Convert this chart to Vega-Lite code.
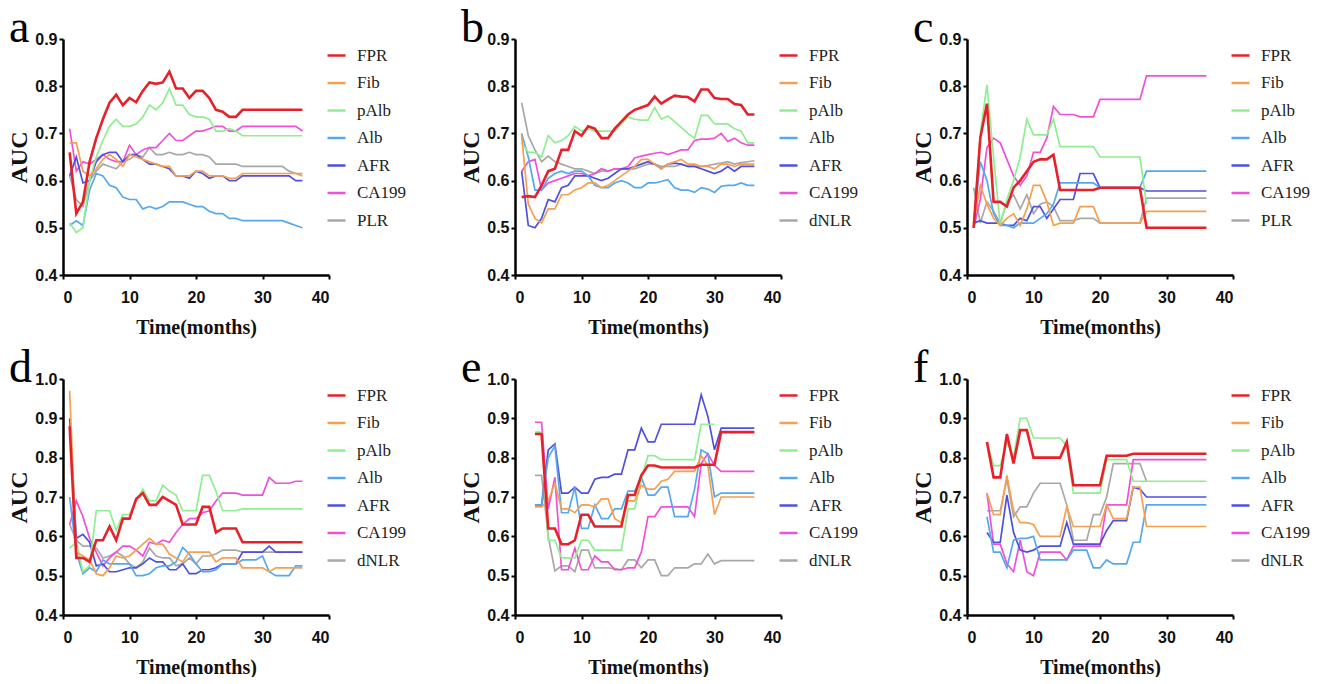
{
"$schema": "https://vega.github.io/schema/vega-lite/v6.json",
"background": "white",
"padding": {"left": 7, "top": 5, "right": 0, "bottom": 0},
"datasets": {
"a": [
{"m":1,"FPR":0.66,"Fib":0.68,"pAlb":0.51,"Alb":0.505,"AFR":0.61,"CA199":0.71,"PLR":0.61},
{"m":2,"FPR":0.53,"Fib":0.68,"pAlb":0.49,"Alb":0.515,"AFR":0.65,"CA199":0.62,"PLR":0.56},
{"m":3,"FPR":0.555,"Fib":0.62,"pAlb":0.5,"Alb":0.505,"AFR":0.595,"CA199":0.64,"PLR":0.545},
{"m":4,"FPR":0.64,"Fib":0.61,"pAlb":0.6,"Alb":0.58,"AFR":0.6,"CA199":0.635,"PLR":0.6},
{"m":5,"FPR":0.69,"Fib":0.625,"pAlb":0.65,"Alb":0.615,"AFR":0.64,"CA199":0.645,"PLR":0.62},
{"m":6,"FPR":0.73,"Fib":0.645,"pAlb":0.685,"Alb":0.61,"AFR":0.655,"CA199":0.655,"PLR":0.635},
{"m":7,"FPR":0.765,"Fib":0.655,"pAlb":0.715,"Alb":0.59,"AFR":0.66,"CA199":0.645,"PLR":0.63},
{"m":8,"FPR":0.782,"Fib":0.645,"pAlb":0.73,"Alb":0.585,"AFR":0.66,"CA199":0.64,"PLR":0.625},
{"m":9,"FPR":0.76,"Fib":0.63,"pAlb":0.715,"Alb":0.565,"AFR":0.64,"CA199":0.64,"PLR":0.64},
{"m":10,"FPR":0.775,"Fib":0.655,"pAlb":0.715,"Alb":0.56,"AFR":0.655,"CA199":0.675,"PLR":0.645},
{"m":11,"FPR":0.766,"Fib":0.65,"pAlb":0.72,"Alb":0.56,"AFR":0.655,"CA199":0.655,"PLR":0.655},
{"m":12,"FPR":0.79,"Fib":0.645,"pAlb":0.735,"Alb":0.54,"AFR":0.645,"CA199":0.665,"PLR":0.65},
{"m":13,"FPR":0.808,"Fib":0.64,"pAlb":0.76,"Alb":0.545,"AFR":0.635,"CA199":0.67,"PLR":0.67},
{"m":14,"FPR":0.805,"Fib":0.635,"pAlb":0.75,"Alb":0.54,"AFR":0.635,"CA199":0.67,"PLR":0.655},
{"m":15,"FPR":0.808,"Fib":0.63,"pAlb":0.765,"Alb":0.545,"AFR":0.63,"CA199":0.685,"PLR":0.655},
{"m":16,"FPR":0.831,"Fib":0.63,"pAlb":0.795,"Alb":0.555,"AFR":0.625,"CA199":0.7,"PLR":0.66},
{"m":17,"FPR":0.795,"Fib":0.61,"pAlb":0.76,"Alb":0.555,"AFR":0.61,"CA199":0.685,"PLR":0.655},
{"m":18,"FPR":0.795,"Fib":0.61,"pAlb":0.76,"Alb":0.555,"AFR":0.61,"CA199":0.685,"PLR":0.655},
{"m":19,"FPR":0.775,"Fib":0.61,"pAlb":0.74,"Alb":0.55,"AFR":0.605,"CA199":0.695,"PLR":0.66},
{"m":20,"FPR":0.79,"Fib":0.62,"pAlb":0.735,"Alb":0.545,"AFR":0.62,"CA199":0.705,"PLR":0.655},
{"m":21,"FPR":0.79,"Fib":0.62,"pAlb":0.735,"Alb":0.545,"AFR":0.615,"CA199":0.705,"PLR":0.655},
{"m":22,"FPR":0.775,"Fib":0.61,"pAlb":0.73,"Alb":0.535,"AFR":0.605,"CA199":0.71,"PLR":0.65},
{"m":23,"FPR":0.75,"Fib":0.61,"pAlb":0.705,"Alb":0.53,"AFR":0.61,"CA199":0.715,"PLR":0.635},
{"m":24,"FPR":0.746,"Fib":0.61,"pAlb":0.705,"Alb":0.53,"AFR":0.61,"CA199":0.715,"PLR":0.635},
{"m":25,"FPR":0.735,"Fib":0.605,"pAlb":0.71,"Alb":0.52,"AFR":0.6,"CA199":0.705,"PLR":0.635},
{"m":26,"FPR":0.735,"Fib":0.605,"pAlb":0.705,"Alb":0.52,"AFR":0.6,"CA199":0.705,"PLR":0.635},
{"m":27,"FPR":0.75,"Fib":0.615,"pAlb":0.695,"Alb":0.515,"AFR":0.61,"CA199":0.715,"PLR":0.63},
{"m":28,"FPR":0.75,"Fib":0.615,"pAlb":0.695,"Alb":0.515,"AFR":0.61,"CA199":0.715,"PLR":0.63},
{"m":29,"FPR":0.75,"Fib":0.615,"pAlb":0.695,"Alb":0.515,"AFR":0.61,"CA199":0.715,"PLR":0.63},
{"m":30,"FPR":0.75,"Fib":0.615,"pAlb":0.695,"Alb":0.515,"AFR":0.61,"CA199":0.715,"PLR":0.63},
{"m":31,"FPR":0.75,"Fib":0.615,"pAlb":0.695,"Alb":0.515,"AFR":0.61,"CA199":0.715,"PLR":0.63},
{"m":32,"FPR":0.75,"Fib":0.615,"pAlb":0.695,"Alb":0.515,"AFR":0.61,"CA199":0.715,"PLR":0.63},
{"m":33,"FPR":0.75,"Fib":0.615,"pAlb":0.695,"Alb":0.515,"AFR":0.61,"CA199":0.715,"PLR":0.63},
{"m":34,"FPR":0.75,"Fib":0.615,"pAlb":0.695,"Alb":0.51,"AFR":0.61,"CA199":0.715,"PLR":0.62},
{"m":35,"FPR":0.75,"Fib":0.615,"pAlb":0.695,"Alb":0.505,"AFR":0.6,"CA199":0.715,"PLR":0.615},
{"m":36,"FPR":0.75,"Fib":0.61,"pAlb":0.695,"Alb":0.5,"AFR":0.6,"CA199":0.705,"PLR":0.615}
],
"b": [
{"m":1,"FPR":0.565,"Fib":0.695,"pAlb":0.68,"Alb":0.7,"AFR":0.62,"CA199":0.62,"dNLR":0.765},
{"m":2,"FPR":0.567,"Fib":0.55,"pAlb":0.66,"Alb":0.65,"AFR":0.505,"CA199":0.64,"dNLR":0.695},
{"m":3,"FPR":0.565,"Fib":0.52,"pAlb":0.66,"Alb":0.58,"AFR":0.5,"CA199":0.645,"dNLR":0.665},
{"m":4,"FPR":0.59,"Fib":0.51,"pAlb":0.65,"Alb":0.58,"AFR":0.52,"CA199":0.58,"dNLR":0.64},
{"m":5,"FPR":0.62,"Fib":0.54,"pAlb":0.695,"Alb":0.605,"AFR":0.56,"CA199":0.595,"dNLR":0.652},
{"m":6,"FPR":0.625,"Fib":0.54,"pAlb":0.68,"Alb":0.615,"AFR":0.555,"CA199":0.6,"dNLR":0.64},
{"m":7,"FPR":0.665,"Fib":0.57,"pAlb":0.685,"Alb":0.62,"AFR":0.585,"CA199":0.605,"dNLR":0.635},
{"m":8,"FPR":0.665,"Fib":0.57,"pAlb":0.695,"Alb":0.615,"AFR":0.59,"CA199":0.61,"dNLR":0.63},
{"m":9,"FPR":0.705,"Fib":0.58,"pAlb":0.715,"Alb":0.62,"AFR":0.61,"CA199":0.615,"dNLR":0.625},
{"m":10,"FPR":0.695,"Fib":0.585,"pAlb":0.705,"Alb":0.62,"AFR":0.61,"CA199":0.615,"dNLR":0.625},
{"m":11,"FPR":0.715,"Fib":0.595,"pAlb":0.71,"Alb":0.61,"AFR":0.61,"CA199":0.61,"dNLR":0.62},
{"m":12,"FPR":0.71,"Fib":0.595,"pAlb":0.705,"Alb":0.59,"AFR":0.605,"CA199":0.615,"dNLR":0.615},
{"m":13,"FPR":0.69,"Fib":0.585,"pAlb":0.705,"Alb":0.585,"AFR":0.6,"CA199":0.625,"dNLR":0.62},
{"m":14,"FPR":0.69,"Fib":0.59,"pAlb":0.705,"Alb":0.585,"AFR":0.605,"CA199":0.62,"dNLR":0.62},
{"m":15,"FPR":0.71,"Fib":0.6,"pAlb":0.705,"Alb":0.595,"AFR":0.615,"CA199":0.625,"dNLR":0.625},
{"m":16,"FPR":0.725,"Fib":0.61,"pAlb":0.72,"Alb":0.6,"AFR":0.625,"CA199":0.625,"dNLR":0.625},
{"m":17,"FPR":0.74,"Fib":0.62,"pAlb":0.735,"Alb":0.595,"AFR":0.625,"CA199":0.63,"dNLR":0.625},
{"m":18,"FPR":0.75,"Fib":0.63,"pAlb":0.73,"Alb":0.585,"AFR":0.63,"CA199":0.648,"dNLR":0.625},
{"m":19,"FPR":0.755,"Fib":0.645,"pAlb":0.728,"Alb":0.585,"AFR":0.635,"CA199":0.652,"dNLR":0.63},
{"m":20,"FPR":0.76,"Fib":0.645,"pAlb":0.728,"Alb":0.595,"AFR":0.64,"CA199":0.655,"dNLR":0.635},
{"m":21,"FPR":0.778,"Fib":0.635,"pAlb":0.755,"Alb":0.595,"AFR":0.635,"CA199":0.658,"dNLR":0.635},
{"m":22,"FPR":0.763,"Fib":0.625,"pAlb":0.73,"Alb":0.598,"AFR":0.625,"CA199":0.66,"dNLR":0.63},
{"m":23,"FPR":0.772,"Fib":0.635,"pAlb":0.737,"Alb":0.602,"AFR":0.635,"CA199":0.655,"dNLR":0.63},
{"m":24,"FPR":0.78,"Fib":0.64,"pAlb":0.725,"Alb":0.585,"AFR":0.637,"CA199":0.66,"dNLR":0.63},
{"m":25,"FPR":0.778,"Fib":0.645,"pAlb":0.713,"Alb":0.58,"AFR":0.635,"CA199":0.665,"dNLR":0.635},
{"m":26,"FPR":0.777,"Fib":0.635,"pAlb":0.7,"Alb":0.58,"AFR":0.63,"CA199":0.665,"dNLR":0.63},
{"m":27,"FPR":0.768,"Fib":0.635,"pAlb":0.69,"Alb":0.575,"AFR":0.63,"CA199":0.685,"dNLR":0.63},
{"m":28,"FPR":0.793,"Fib":0.63,"pAlb":0.738,"Alb":0.585,"AFR":0.625,"CA199":0.688,"dNLR":0.63},
{"m":29,"FPR":0.793,"Fib":0.63,"pAlb":0.738,"Alb":0.582,"AFR":0.62,"CA199":0.688,"dNLR":0.632},
{"m":30,"FPR":0.775,"Fib":0.625,"pAlb":0.72,"Alb":0.575,"AFR":0.615,"CA199":0.69,"dNLR":0.635},
{"m":31,"FPR":0.773,"Fib":0.635,"pAlb":0.72,"Alb":0.588,"AFR":0.62,"CA199":0.7,"dNLR":0.637},
{"m":32,"FPR":0.773,"Fib":0.635,"pAlb":0.72,"Alb":0.59,"AFR":0.63,"CA199":0.683,"dNLR":0.64},
{"m":33,"FPR":0.762,"Fib":0.63,"pAlb":0.71,"Alb":0.59,"AFR":0.62,"CA199":0.69,"dNLR":0.635},
{"m":34,"FPR":0.76,"Fib":0.635,"pAlb":0.705,"Alb":0.595,"AFR":0.63,"CA199":0.68,"dNLR":0.638},
{"m":35,"FPR":0.74,"Fib":0.635,"pAlb":0.68,"Alb":0.59,"AFR":0.63,"CA199":0.675,"dNLR":0.64},
{"m":36,"FPR":0.74,"Fib":0.635,"pAlb":0.68,"Alb":0.59,"AFR":0.63,"CA199":0.675,"dNLR":0.642}
],
"c": [
{"m":1,"FPR":0.5,"Fib":0.51,"pAlb":0.5,"Alb":0.51,"AFR":0.51,"CA199":0.5,"PLR":0.585},
{"m":2,"FPR":0.69,"Fib":0.59,"pAlb":0.7,"Alb":0.64,"AFR":0.515,"CA199":0.56,"PLR":0.51},
{"m":3,"FPR":0.763,"Fib":0.55,"pAlb":0.803,"Alb":0.6,"AFR":0.51,"CA199":0.67,"PLR":0.555},
{"m":4,"FPR":0.555,"Fib":0.52,"pAlb":0.65,"Alb":0.53,"AFR":0.51,"CA199":0.69,"PLR":0.535},
{"m":5,"FPR":0.555,"Fib":0.505,"pAlb":0.505,"Alb":0.505,"AFR":0.51,"CA199":0.68,"PLR":0.51},
{"m":6,"FPR":0.545,"Fib":0.52,"pAlb":0.56,"Alb":0.505,"AFR":0.505,"CA199":0.645,"PLR":0.555},
{"m":7,"FPR":0.585,"Fib":0.53,"pAlb":0.6,"Alb":0.5,"AFR":0.505,"CA199":0.61,"PLR":0.57},
{"m":8,"FPR":0.6,"Fib":0.505,"pAlb":0.65,"Alb":0.51,"AFR":0.52,"CA199":0.59,"PLR":0.54},
{"m":9,"FPR":0.62,"Fib":0.54,"pAlb":0.73,"Alb":0.51,"AFR":0.515,"CA199":0.61,"PLR":0.57},
{"m":10,"FPR":0.64,"Fib":0.59,"pAlb":0.697,"Alb":0.51,"AFR":0.545,"CA199":0.66,"PLR":0.53},
{"m":11,"FPR":0.645,"Fib":0.59,"pAlb":0.697,"Alb":0.52,"AFR":0.545,"CA199":0.66,"PLR":0.55},
{"m":12,"FPR":0.645,"Fib":0.555,"pAlb":0.697,"Alb":0.53,"AFR":0.52,"CA199":0.69,"PLR":0.555},
{"m":13,"FPR":0.655,"Fib":0.505,"pAlb":0.73,"Alb":0.55,"AFR":0.54,"CA199":0.757,"PLR":0.545},
{"m":14,"FPR":0.58,"Fib":0.51,"pAlb":0.672,"Alb":0.595,"AFR":0.56,"CA199":0.74,"PLR":0.515},
{"m":15,"FPR":0.58,"Fib":0.51,"pAlb":0.672,"Alb":0.595,"AFR":0.56,"CA199":0.74,"PLR":0.515},
{"m":16,"FPR":0.58,"Fib":0.51,"pAlb":0.672,"Alb":0.595,"AFR":0.56,"CA199":0.74,"PLR":0.515},
{"m":17,"FPR":0.58,"Fib":0.545,"pAlb":0.672,"Alb":0.595,"AFR":0.615,"CA199":0.735,"PLR":0.52},
{"m":18,"FPR":0.58,"Fib":0.545,"pAlb":0.672,"Alb":0.595,"AFR":0.615,"CA199":0.735,"PLR":0.52},
{"m":19,"FPR":0.58,"Fib":0.545,"pAlb":0.672,"Alb":0.595,"AFR":0.615,"CA199":0.735,"PLR":0.52},
{"m":20,"FPR":0.585,"Fib":0.51,"pAlb":0.65,"Alb":0.585,"AFR":0.585,"CA199":0.772,"PLR":0.51},
{"m":21,"FPR":0.585,"Fib":0.51,"pAlb":0.65,"Alb":0.585,"AFR":0.585,"CA199":0.772,"PLR":0.51},
{"m":22,"FPR":0.585,"Fib":0.51,"pAlb":0.65,"Alb":0.585,"AFR":0.585,"CA199":0.772,"PLR":0.51},
{"m":23,"FPR":0.585,"Fib":0.51,"pAlb":0.65,"Alb":0.585,"AFR":0.585,"CA199":0.772,"PLR":0.51},
{"m":24,"FPR":0.585,"Fib":0.51,"pAlb":0.65,"Alb":0.585,"AFR":0.585,"CA199":0.772,"PLR":0.51},
{"m":25,"FPR":0.585,"Fib":0.51,"pAlb":0.65,"Alb":0.585,"AFR":0.585,"CA199":0.772,"PLR":0.51},
{"m":26,"FPR":0.585,"Fib":0.51,"pAlb":0.65,"Alb":0.585,"AFR":0.585,"CA199":0.772,"PLR":0.51},
{"m":27,"FPR":0.5,"Fib":0.535,"pAlb":0.55,"Alb":0.62,"AFR":0.578,"CA199":0.822,"PLR":0.563},
{"m":28,"FPR":0.5,"Fib":0.535,"pAlb":null,"Alb":0.62,"AFR":0.578,"CA199":0.822,"PLR":0.563},
{"m":29,"FPR":0.5,"Fib":0.535,"pAlb":null,"Alb":0.62,"AFR":0.578,"CA199":0.822,"PLR":0.563},
{"m":30,"FPR":0.5,"Fib":0.535,"pAlb":null,"Alb":0.62,"AFR":0.578,"CA199":0.822,"PLR":0.563},
{"m":31,"FPR":0.5,"Fib":0.535,"pAlb":null,"Alb":0.62,"AFR":0.578,"CA199":0.822,"PLR":0.563},
{"m":32,"FPR":0.5,"Fib":0.535,"pAlb":null,"Alb":0.62,"AFR":0.578,"CA199":0.822,"PLR":0.563},
{"m":33,"FPR":0.5,"Fib":0.535,"pAlb":null,"Alb":0.62,"AFR":0.578,"CA199":0.822,"PLR":0.563},
{"m":34,"FPR":0.5,"Fib":0.535,"pAlb":null,"Alb":0.62,"AFR":0.578,"CA199":0.822,"PLR":0.563},
{"m":35,"FPR":0.5,"Fib":0.535,"pAlb":null,"Alb":0.62,"AFR":0.578,"CA199":0.822,"PLR":0.563},
{"m":36,"FPR":0.5,"Fib":0.535,"pAlb":null,"Alb":0.62,"AFR":0.578,"CA199":0.822,"PLR":0.563}
],
"d": [
{"m":1,"FPR":0.88,"Fib":0.97,"pAlb":0.57,"Alb":0.7,"AFR":0.9,"CA199":0.63,"dNLR":0.63},
{"m":2,"FPR":0.545,"Fib":0.56,"pAlb":0.585,"Alb":0.56,"AFR":0.595,"CA199":0.69,"dNLR":0.59},
{"m":3,"FPR":0.545,"Fib":0.55,"pAlb":0.51,"Alb":0.505,"AFR":0.605,"CA199":0.65,"dNLR":0.575},
{"m":4,"FPR":0.535,"Fib":0.54,"pAlb":0.525,"Alb":0.52,"AFR":0.585,"CA199":0.595,"dNLR":0.575},
{"m":5,"FPR":0.59,"Fib":0.505,"pAlb":0.665,"Alb":0.51,"AFR":0.525,"CA199":0.56,"dNLR":0.57},
{"m":6,"FPR":0.59,"Fib":0.5,"pAlb":0.665,"Alb":0.54,"AFR":0.53,"CA199":0.525,"dNLR":0.545},
{"m":7,"FPR":0.625,"Fib":0.52,"pAlb":0.665,"Alb":0.53,"AFR":0.51,"CA199":0.545,"dNLR":0.55},
{"m":8,"FPR":0.59,"Fib":0.55,"pAlb":0.615,"Alb":0.53,"AFR":0.51,"CA199":0.56,"dNLR":0.56},
{"m":9,"FPR":0.645,"Fib":0.545,"pAlb":0.655,"Alb":0.53,"AFR":0.515,"CA199":0.575,"dNLR":0.55},
{"m":10,"FPR":0.645,"Fib":0.55,"pAlb":0.655,"Alb":0.53,"AFR":0.52,"CA199":0.575,"dNLR":0.53},
{"m":11,"FPR":0.695,"Fib":0.565,"pAlb":0.69,"Alb":0.5,"AFR":0.52,"CA199":0.565,"dNLR":0.52},
{"m":12,"FPR":0.71,"Fib":0.58,"pAlb":0.72,"Alb":0.5,"AFR":0.53,"CA199":0.55,"dNLR":0.535},
{"m":13,"FPR":0.68,"Fib":0.595,"pAlb":0.69,"Alb":0.505,"AFR":0.545,"CA199":0.585,"dNLR":0.57},
{"m":14,"FPR":0.68,"Fib":0.58,"pAlb":0.69,"Alb":0.52,"AFR":0.535,"CA199":0.58,"dNLR":0.55},
{"m":15,"FPR":0.7,"Fib":0.58,"pAlb":0.73,"Alb":0.525,"AFR":0.535,"CA199":0.59,"dNLR":0.545},
{"m":16,"FPR":0.69,"Fib":0.555,"pAlb":0.715,"Alb":0.525,"AFR":0.515,"CA199":0.585,"dNLR":0.545},
{"m":17,"FPR":0.68,"Fib":0.545,"pAlb":0.705,"Alb":0.535,"AFR":0.515,"CA199":0.61,"dNLR":0.525},
{"m":18,"FPR":0.63,"Fib":0.535,"pAlb":0.665,"Alb":0.572,"AFR":0.53,"CA199":0.63,"dNLR":0.53},
{"m":19,"FPR":0.63,"Fib":0.56,"pAlb":0.665,"Alb":0.555,"AFR":0.505,"CA199":0.645,"dNLR":0.545},
{"m":20,"FPR":0.63,"Fib":0.56,"pAlb":0.665,"Alb":0.53,"AFR":0.505,"CA199":0.645,"dNLR":0.53},
{"m":21,"FPR":0.675,"Fib":0.56,"pAlb":0.755,"Alb":0.51,"AFR":0.515,"CA199":0.66,"dNLR":0.55},
{"m":22,"FPR":0.675,"Fib":0.56,"pAlb":0.755,"Alb":0.51,"AFR":0.515,"CA199":0.665,"dNLR":0.55},
{"m":23,"FPR":0.61,"Fib":0.535,"pAlb":0.715,"Alb":0.515,"AFR":0.52,"CA199":0.69,"dNLR":0.555},
{"m":24,"FPR":0.62,"Fib":0.545,"pAlb":0.665,"Alb":0.53,"AFR":0.53,"CA199":0.71,"dNLR":0.565},
{"m":25,"FPR":0.62,"Fib":0.545,"pAlb":0.665,"Alb":0.53,"AFR":0.53,"CA199":0.71,"dNLR":0.565},
{"m":26,"FPR":0.62,"Fib":0.545,"pAlb":0.665,"Alb":0.53,"AFR":0.53,"CA199":0.71,"dNLR":0.565},
{"m":27,"FPR":0.585,"Fib":0.52,"pAlb":0.67,"Alb":0.54,"AFR":0.56,"CA199":0.705,"dNLR":0.56},
{"m":28,"FPR":0.585,"Fib":0.52,"pAlb":0.67,"Alb":0.54,"AFR":0.56,"CA199":0.705,"dNLR":0.56},
{"m":29,"FPR":0.585,"Fib":0.52,"pAlb":0.67,"Alb":0.54,"AFR":0.56,"CA199":0.705,"dNLR":0.56},
{"m":30,"FPR":0.585,"Fib":0.52,"pAlb":0.67,"Alb":0.55,"AFR":0.56,"CA199":0.705,"dNLR":0.56},
{"m":31,"FPR":0.585,"Fib":0.51,"pAlb":0.67,"Alb":0.51,"AFR":0.575,"CA199":0.75,"dNLR":0.56},
{"m":32,"FPR":0.585,"Fib":0.52,"pAlb":0.67,"Alb":0.5,"AFR":0.56,"CA199":0.735,"dNLR":0.56},
{"m":33,"FPR":0.585,"Fib":0.52,"pAlb":0.67,"Alb":0.5,"AFR":0.56,"CA199":0.735,"dNLR":0.56},
{"m":34,"FPR":0.585,"Fib":0.52,"pAlb":0.67,"Alb":0.5,"AFR":0.56,"CA199":0.735,"dNLR":0.56},
{"m":35,"FPR":0.585,"Fib":0.52,"pAlb":0.67,"Alb":0.525,"AFR":0.56,"CA199":0.74,"dNLR":0.56},
{"m":36,"FPR":0.585,"Fib":0.52,"pAlb":0.67,"Alb":0.525,"AFR":0.56,"CA199":0.74,"dNLR":0.56}
],
"e": [
{"m":3,"FPR":0.86,"Fib":0.675,"pAlb":0.865,"Alb":0.68,"AFR":0.68,"CA199":0.89,"dNLR":0.755},
{"m":4,"FPR":0.86,"Fib":0.675,"pAlb":0.865,"Alb":0.68,"AFR":0.68,"CA199":0.89,"dNLR":0.755},
{"m":5,"FPR":0.62,"Fib":0.69,"pAlb":0.59,"Alb":0.8,"AFR":0.82,"CA199":0.67,"dNLR":0.6},
{"m":6,"FPR":0.62,"Fib":0.735,"pAlb":0.59,"Alb":0.83,"AFR":0.835,"CA199":0.75,"dNLR":0.512},
{"m":7,"FPR":0.58,"Fib":0.67,"pAlb":0.545,"Alb":0.66,"AFR":0.71,"CA199":0.515,"dNLR":0.525},
{"m":8,"FPR":0.58,"Fib":0.67,"pAlb":0.545,"Alb":0.66,"AFR":0.71,"CA199":0.515,"dNLR":0.525},
{"m":9,"FPR":0.59,"Fib":0.66,"pAlb":0.545,"Alb":0.725,"AFR":0.725,"CA199":0.57,"dNLR":0.51},
{"m":10,"FPR":0.655,"Fib":0.68,"pAlb":0.59,"Alb":0.62,"AFR":0.71,"CA199":0.515,"dNLR":0.565},
{"m":11,"FPR":0.655,"Fib":0.68,"pAlb":0.59,"Alb":0.62,"AFR":0.71,"CA199":0.515,"dNLR":0.565},
{"m":12,"FPR":0.625,"Fib":0.675,"pAlb":0.565,"Alb":0.68,"AFR":0.745,"CA199":0.55,"dNLR":0.52},
{"m":13,"FPR":0.625,"Fib":0.695,"pAlb":0.565,"Alb":0.645,"AFR":0.75,"CA199":0.535,"dNLR":0.52},
{"m":14,"FPR":0.625,"Fib":0.695,"pAlb":0.565,"Alb":0.645,"AFR":0.75,"CA199":0.535,"dNLR":0.52},
{"m":15,"FPR":0.625,"Fib":0.645,"pAlb":0.565,"Alb":0.67,"AFR":0.758,"CA199":0.515,"dNLR":0.518},
{"m":16,"FPR":0.625,"Fib":0.635,"pAlb":0.565,"Alb":0.67,"AFR":0.758,"CA199":0.515,"dNLR":0.515},
{"m":17,"FPR":0.705,"Fib":0.69,"pAlb":0.67,"Alb":0.715,"AFR":0.82,"CA199":0.52,"dNLR":0.54},
{"m":18,"FPR":0.705,"Fib":0.69,"pAlb":0.67,"Alb":0.715,"AFR":0.82,"CA199":0.52,"dNLR":0.54},
{"m":19,"FPR":0.755,"Fib":0.73,"pAlb":0.745,"Alb":0.75,"AFR":0.875,"CA199":0.56,"dNLR":0.52},
{"m":20,"FPR":0.78,"Fib":0.72,"pAlb":0.805,"Alb":0.705,"AFR":0.84,"CA199":0.65,"dNLR":0.54},
{"m":21,"FPR":0.78,"Fib":0.72,"pAlb":0.805,"Alb":0.705,"AFR":0.84,"CA199":0.65,"dNLR":0.54},
{"m":22,"FPR":0.775,"Fib":0.74,"pAlb":0.795,"Alb":0.725,"AFR":0.885,"CA199":0.675,"dNLR":0.5},
{"m":23,"FPR":0.775,"Fib":0.745,"pAlb":0.795,"Alb":0.725,"AFR":0.885,"CA199":0.675,"dNLR":0.5},
{"m":24,"FPR":0.775,"Fib":0.765,"pAlb":0.795,"Alb":0.65,"AFR":0.885,"CA199":0.675,"dNLR":0.52},
{"m":25,"FPR":0.775,"Fib":0.765,"pAlb":0.795,"Alb":0.65,"AFR":0.885,"CA199":0.675,"dNLR":0.52},
{"m":26,"FPR":0.775,"Fib":0.765,"pAlb":0.795,"Alb":0.65,"AFR":0.885,"CA199":0.675,"dNLR":0.52},
{"m":27,"FPR":0.775,"Fib":0.765,"pAlb":0.795,"Alb":0.72,"AFR":0.885,"CA199":0.65,"dNLR":0.53},
{"m":28,"FPR":0.782,"Fib":0.805,"pAlb":0.885,"Alb":0.82,"AFR":0.96,"CA199":0.785,"dNLR":0.53},
{"m":29,"FPR":0.782,"Fib":0.78,"pAlb":0.885,"Alb":0.81,"AFR":0.905,"CA199":0.81,"dNLR":0.555},
{"m":30,"FPR":0.782,"Fib":0.655,"pAlb":0.885,"Alb":0.7,"AFR":0.82,"CA199":0.78,"dNLR":0.53},
{"m":31,"FPR":0.865,"Fib":0.7,"pAlb":null,"Alb":0.71,"AFR":0.875,"CA199":0.765,"dNLR":0.538},
{"m":32,"FPR":0.865,"Fib":0.7,"pAlb":null,"Alb":0.71,"AFR":0.875,"CA199":0.765,"dNLR":0.538},
{"m":33,"FPR":0.865,"Fib":0.7,"pAlb":null,"Alb":0.71,"AFR":0.875,"CA199":0.765,"dNLR":0.538},
{"m":34,"FPR":0.865,"Fib":0.7,"pAlb":null,"Alb":0.71,"AFR":0.875,"CA199":0.765,"dNLR":0.538},
{"m":35,"FPR":0.865,"Fib":0.7,"pAlb":null,"Alb":0.71,"AFR":0.875,"CA199":0.765,"dNLR":0.538},
{"m":36,"FPR":0.865,"Fib":0.7,"pAlb":null,"Alb":0.71,"AFR":0.875,"CA199":0.765,"dNLR":0.538}
],
"f": [
{"m":3,"FPR":0.84,"Fib":0.71,"pAlb":0.84,"Alb":0.65,"AFR":0.61,"CA199":0.71,"dNLR":0.665},
{"m":4,"FPR":0.75,"Fib":0.655,"pAlb":0.78,"Alb":0.56,"AFR":0.585,"CA199":0.58,"dNLR":0.665},
{"m":5,"FPR":0.75,"Fib":0.655,"pAlb":0.78,"Alb":0.56,"AFR":0.585,"CA199":0.58,"dNLR":0.665},
{"m":6,"FPR":0.86,"Fib":0.755,"pAlb":0.84,"Alb":0.52,"AFR":0.705,"CA199":0.53,"dNLR":0.745},
{"m":7,"FPR":0.785,"Fib":0.665,"pAlb":0.8,"Alb":0.59,"AFR":0.61,"CA199":0.51,"dNLR":0.65},
{"m":8,"FPR":0.87,"Fib":0.635,"pAlb":0.9,"Alb":0.595,"AFR":0.565,"CA199":0.59,"dNLR":0.675},
{"m":9,"FPR":0.87,"Fib":0.635,"pAlb":0.9,"Alb":0.595,"AFR":0.56,"CA199":0.51,"dNLR":0.675},
{"m":10,"FPR":0.8,"Fib":0.63,"pAlb":0.85,"Alb":0.6,"AFR":0.565,"CA199":0.5,"dNLR":0.71},
{"m":11,"FPR":0.8,"Fib":0.6,"pAlb":0.85,"Alb":0.54,"AFR":0.575,"CA199":0.56,"dNLR":0.735},
{"m":12,"FPR":0.8,"Fib":0.6,"pAlb":0.85,"Alb":0.54,"AFR":0.575,"CA199":0.56,"dNLR":0.735},
{"m":13,"FPR":0.8,"Fib":0.6,"pAlb":0.85,"Alb":0.54,"AFR":0.575,"CA199":0.56,"dNLR":0.735},
{"m":14,"FPR":0.8,"Fib":0.6,"pAlb":0.85,"Alb":0.54,"AFR":0.575,"CA199":0.56,"dNLR":0.735},
{"m":15,"FPR":0.84,"Fib":0.675,"pAlb":0.83,"Alb":0.54,"AFR":0.635,"CA199":0.54,"dNLR":0.68},
{"m":16,"FPR":0.73,"Fib":0.625,"pAlb":0.71,"Alb":0.565,"AFR":0.58,"CA199":0.575,"dNLR":0.59},
{"m":17,"FPR":0.73,"Fib":0.625,"pAlb":0.71,"Alb":0.565,"AFR":0.58,"CA199":0.575,"dNLR":0.59},
{"m":18,"FPR":0.73,"Fib":0.625,"pAlb":0.71,"Alb":0.565,"AFR":0.58,"CA199":0.575,"dNLR":0.59},
{"m":19,"FPR":0.73,"Fib":0.625,"pAlb":0.71,"Alb":0.52,"AFR":0.58,"CA199":0.575,"dNLR":0.655},
{"m":20,"FPR":0.73,"Fib":0.625,"pAlb":0.71,"Alb":0.52,"AFR":0.58,"CA199":0.575,"dNLR":0.655},
{"m":21,"FPR":0.805,"Fib":0.68,"pAlb":0.795,"Alb":0.54,"AFR":0.615,"CA199":0.68,"dNLR":0.7},
{"m":22,"FPR":0.805,"Fib":0.645,"pAlb":0.795,"Alb":0.53,"AFR":0.64,"CA199":0.68,"dNLR":0.785},
{"m":23,"FPR":0.805,"Fib":0.645,"pAlb":0.795,"Alb":0.53,"AFR":0.64,"CA199":0.68,"dNLR":0.785},
{"m":24,"FPR":0.805,"Fib":0.645,"pAlb":0.795,"Alb":0.53,"AFR":0.64,"CA199":0.68,"dNLR":0.785},
{"m":25,"FPR":0.81,"Fib":0.725,"pAlb":0.74,"Alb":0.585,"AFR":0.725,"CA199":0.795,"dNLR":0.785},
{"m":26,"FPR":0.81,"Fib":0.725,"pAlb":0.74,"Alb":0.585,"AFR":0.72,"CA199":0.795,"dNLR":0.785},
{"m":27,"FPR":0.81,"Fib":0.625,"pAlb":0.74,"Alb":0.68,"AFR":0.7,"CA199":0.795,"dNLR":0.74},
{"m":28,"FPR":0.81,"Fib":0.625,"pAlb":0.74,"Alb":0.68,"AFR":0.7,"CA199":0.795,"dNLR":null},
{"m":29,"FPR":0.81,"Fib":0.625,"pAlb":0.74,"Alb":0.68,"AFR":0.7,"CA199":0.795,"dNLR":null},
{"m":30,"FPR":0.81,"Fib":0.625,"pAlb":0.74,"Alb":0.68,"AFR":0.7,"CA199":0.795,"dNLR":null},
{"m":31,"FPR":0.81,"Fib":0.625,"pAlb":0.74,"Alb":0.68,"AFR":0.7,"CA199":0.795,"dNLR":null},
{"m":32,"FPR":0.81,"Fib":0.625,"pAlb":0.74,"Alb":0.68,"AFR":0.7,"CA199":0.795,"dNLR":null},
{"m":33,"FPR":0.81,"Fib":0.625,"pAlb":0.74,"Alb":0.68,"AFR":0.7,"CA199":0.795,"dNLR":null},
{"m":34,"FPR":0.81,"Fib":0.625,"pAlb":0.74,"Alb":0.68,"AFR":0.7,"CA199":0.795,"dNLR":null},
{"m":35,"FPR":0.81,"Fib":0.625,"pAlb":0.74,"Alb":0.68,"AFR":0.7,"CA199":0.795,"dNLR":null},
{"m":36,"FPR":0.81,"Fib":0.625,"pAlb":0.74,"Alb":0.68,"AFR":0.7,"CA199":0.795,"dNLR":null}
]
},
"spacing": 8,
"resolve": {"scale": {"color": "independent"}, "legend": {"color": "independent"}},
"vconcat": [
{
"spacing": 52,
"resolve": {"scale": {"color": "independent"}, "legend": {"color": "independent"}},
"hconcat": [
{"title": {"text": "a"}, "width": 266, "height": 236, "data": {"name": "a"},
 "transform": [{"fold": ["PLR","CA199","AFR","Alb","pAlb","Fib","FPR"]}],
 "mark": {"type": "line"},
 "encoding": {
  "x": {"field": "m", "type": "quantitative", "scale": {"domain": [0, 40]}, "axis": {"values": [0,10,20,30,40], "title": "Time(months)"}},
  "y": {"field": "value", "type": "quantitative", "scale": {"domain": [0.4, 0.9]}, "axis": {"values": [0.4,0.5,0.6,0.7,0.8,0.9], "format": ".1f", "title": "AUC"}},
  "color": {"field": "key", "type": "nominal", "scale": {"domain": ["FPR","Fib","pAlb","Alb","AFR","CA199","PLR"], "range": ["#e8202a","#f5a050","#8fee8f","#55a8f0","#5050e0","#f050d8","#a8a8a8"]}, "legend": {"orient": "none", "legendX": 263, "legendY": 6, "title": null}},
  "strokeWidth": {"condition": {"test": "datum.key === 'FPR'", "value": 2.6}, "value": 1.7}
 }},
{"title": {"text": "b"}, "width": 266, "height": 236, "data": {"name": "b"},
 "transform": [{"fold": ["dNLR","CA199","AFR","Alb","pAlb","Fib","FPR"]}],
 "mark": {"type": "line"},
 "encoding": {
  "x": {"field": "m", "type": "quantitative", "scale": {"domain": [0, 40]}, "axis": {"values": [0,10,20,30,40], "title": "Time(months)"}},
  "y": {"field": "value", "type": "quantitative", "scale": {"domain": [0.4, 0.9]}, "axis": {"values": [0.4,0.5,0.6,0.7,0.8,0.9], "format": ".1f", "title": "AUC"}},
  "color": {"field": "key", "type": "nominal", "scale": {"domain": ["FPR","Fib","pAlb","Alb","AFR","CA199","dNLR"], "range": ["#e8202a","#f5a050","#8fee8f","#55a8f0","#5050e0","#f050d8","#a8a8a8"]}, "legend": {"orient": "none", "legendX": 263, "legendY": 6, "title": null}},
  "strokeWidth": {"condition": {"test": "datum.key === 'FPR'", "value": 2.6}, "value": 1.7}
 }},
{"title": {"text": "c"}, "width": 266, "height": 236, "data": {"name": "c"},
 "transform": [{"fold": ["PLR","CA199","AFR","Alb","pAlb","Fib","FPR"]}],
 "mark": {"type": "line"},
 "encoding": {
  "x": {"field": "m", "type": "quantitative", "scale": {"domain": [0, 40]}, "axis": {"values": [0,10,20,30,40], "title": "Time(months)"}},
  "y": {"field": "value", "type": "quantitative", "scale": {"domain": [0.4, 0.9]}, "axis": {"values": [0.4,0.5,0.6,0.7,0.8,0.9], "format": ".1f", "title": "AUC"}},
  "color": {"field": "key", "type": "nominal", "scale": {"domain": ["FPR","Fib","pAlb","Alb","AFR","CA199","PLR"], "range": ["#e8202a","#f5a050","#8fee8f","#55a8f0","#5050e0","#f050d8","#a8a8a8"]}, "legend": {"orient": "none", "legendX": 263, "legendY": 6, "title": null}},
  "strokeWidth": {"condition": {"test": "datum.key === 'FPR'", "value": 2.6}, "value": 1.7}
 }}
]
},
{
"spacing": 52,
"resolve": {"scale": {"color": "independent"}, "legend": {"color": "independent"}},
"hconcat": [
{"title": {"text": "d"}, "width": 266, "height": 236, "data": {"name": "d"},
 "transform": [{"fold": ["dNLR","CA199","AFR","Alb","pAlb","Fib","FPR"]}],
 "mark": {"type": "line"},
 "encoding": {
  "x": {"field": "m", "type": "quantitative", "scale": {"domain": [0, 40]}, "axis": {"values": [0,10,20,30,40], "title": "Time(months)"}},
  "y": {"field": "value", "type": "quantitative", "scale": {"domain": [0.4, 1.0]}, "axis": {"values": [0.4,0.5,0.6,0.7,0.8,0.9,1.0], "format": ".1f", "title": "AUC"}},
  "color": {"field": "key", "type": "nominal", "scale": {"domain": ["FPR","Fib","pAlb","Alb","AFR","CA199","dNLR"], "range": ["#e8202a","#f5a050","#8fee8f","#55a8f0","#5050e0","#f050d8","#a8a8a8"]}, "legend": {"orient": "none", "legendX": 263, "legendY": 6, "title": null}},
  "strokeWidth": {"condition": {"test": "datum.key === 'FPR'", "value": 2.6}, "value": 1.7}
 }},
{"title": {"text": "e"}, "width": 266, "height": 236, "data": {"name": "e"},
 "transform": [{"fold": ["dNLR","CA199","AFR","Alb","pAlb","Fib","FPR"]}],
 "mark": {"type": "line"},
 "encoding": {
  "x": {"field": "m", "type": "quantitative", "scale": {"domain": [0, 40]}, "axis": {"values": [0,10,20,30,40], "title": "Time(months)"}},
  "y": {"field": "value", "type": "quantitative", "scale": {"domain": [0.4, 1.0]}, "axis": {"values": [0.4,0.5,0.6,0.7,0.8,0.9,1.0], "format": ".1f", "title": "AUC"}},
  "color": {"field": "key", "type": "nominal", "scale": {"domain": ["FPR","Fib","pAlb","Alb","AFR","CA199","dNLR"], "range": ["#e8202a","#f5a050","#8fee8f","#55a8f0","#5050e0","#f050d8","#a8a8a8"]}, "legend": {"orient": "none", "legendX": 263, "legendY": 6, "title": null}},
  "strokeWidth": {"condition": {"test": "datum.key === 'FPR'", "value": 2.6}, "value": 1.7}
 }},
{"title": {"text": "f"}, "width": 266, "height": 236, "data": {"name": "f"},
 "transform": [{"fold": ["dNLR","CA199","AFR","Alb","pAlb","Fib","FPR"]}],
 "mark": {"type": "line"},
 "encoding": {
  "x": {"field": "m", "type": "quantitative", "scale": {"domain": [0, 40]}, "axis": {"values": [0,10,20,30,40], "title": "Time(months)"}},
  "y": {"field": "value", "type": "quantitative", "scale": {"domain": [0.4, 1.0]}, "axis": {"values": [0.4,0.5,0.6,0.7,0.8,0.9,1.0], "format": ".1f", "title": "AUC"}},
  "color": {"field": "key", "type": "nominal", "scale": {"domain": ["FPR","Fib","pAlb","Alb","AFR","CA199","dNLR"], "range": ["#e8202a","#f5a050","#8fee8f","#55a8f0","#5050e0","#f050d8","#a8a8a8"]}, "legend": {"orient": "none", "legendX": 263, "legendY": 6, "title": null}},
  "strokeWidth": {"condition": {"test": "datum.key === 'FPR'", "value": 2.6}, "value": 1.7}
 }}
]
}
],
"config": {
 "view": {"stroke": null},
 "axis": {"grid": false, "domainColor": "#000", "domainWidth": 2.5, "tickColor": "#000", "tickWidth": 2, "tickSize": 4, "labelFont": "Liberation Sans", "labelFontWeight": "bold", "labelFontSize": 16, "labelColor": "#111", "titleFont": "Liberation Serif", "titleFontWeight": "bold", "titleColor": "#111"},
 "axisX": {"labelPadding": 10, "titleFontSize": 20, "titlePadding": 12},
 "axisY": {"labelPadding": 2, "titleFontSize": 24, "titlePadding": 3},
 "legend": {"symbolType": "stroke", "symbolSize": 324, "symbolStrokeWidth": 2.5, "labelFont": "Liberation Serif", "labelFontSize": 17, "labelColor": "#222", "rowPadding": 8.5, "labelOffset": 10, "padding": 0},
 "title": {"font": "Liberation Serif", "fontSize": 46, "fontWeight": "normal", "color": "#000", "anchor": "start", "frame": "group", "offset": 0, "baseline": "alphabetic", "dx": -54, "dy": 25}
}
}
